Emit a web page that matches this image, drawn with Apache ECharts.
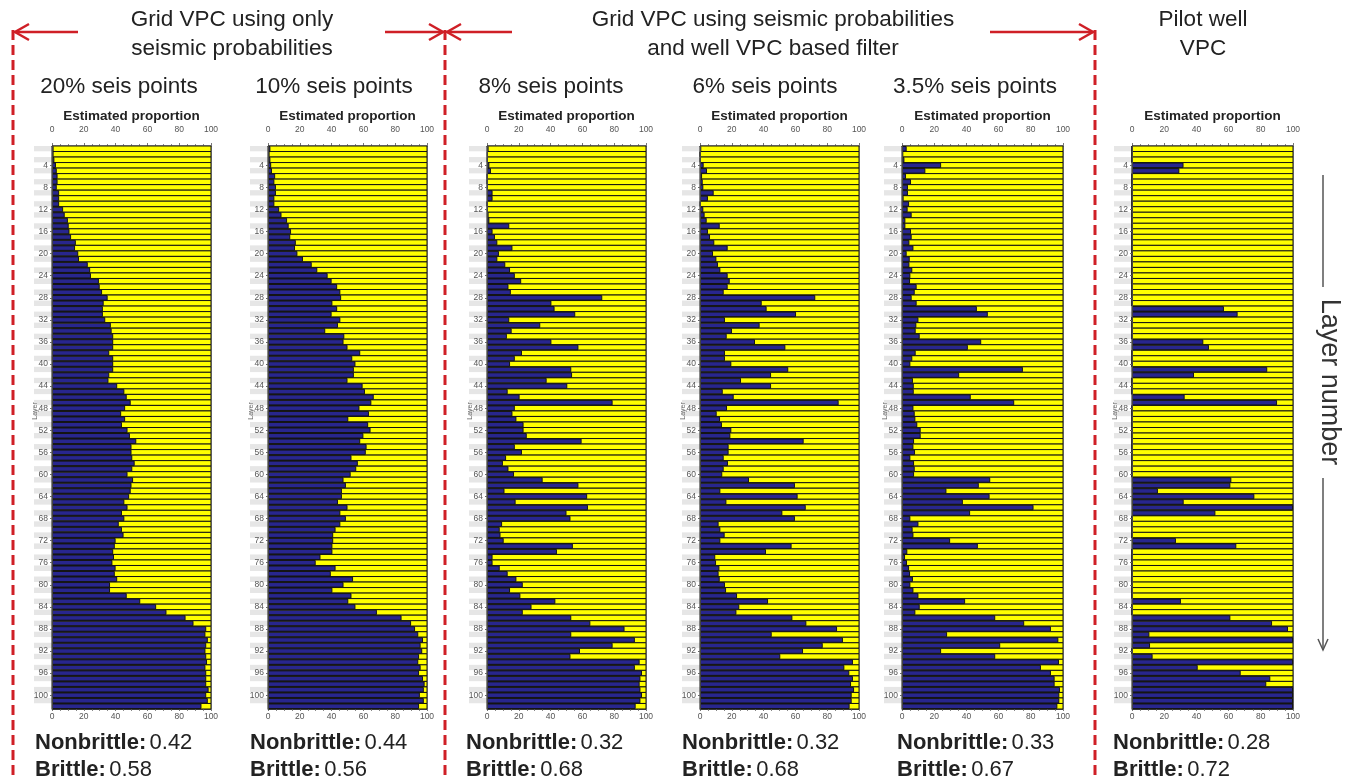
<!DOCTYPE html>
<html>
<head>
<meta charset="utf-8">
<script src="https://cdn.jsdelivr.net/npm/echarts@6/dist/echarts.min.js"></script>
<style>
  html, body { margin: 0; padding: 0; background: #ffffff; }
  #chart { width: 1347px; height: 780px; }
</style>
</head>
<body>
<div id="chart"></div>
<script>
// Layer numbers (1 = top of the zone)
const layers = Array.from({ length: 102 }, (_, i) => String(i + 1));

// Nonbrittle proportion (%) per layer for each vertical proportion curve
const nb20 = [1,1,1.5,2.5,3,3.5,3.5,3,4.5,4.5,
  4.5,7,8,10,10.5,11,12,15,14.5,16.5,
  17,22.5,24,24.5,29.5,30,31.5,35,32.5,32,
  32,33.5,37,37.5,38.5,38.5,38.5,36,38.5,38.5,
  38.5,36,35.5,41,45.5,47,49.5,46,43.5,46,
  44,47.5,49,53,50,50,50.5,52,50.5,47.5,
  51,50,49.5,48.5,45.5,47.5,44,45.5,42,44,
  45,40,39.5,38.5,39,38,40,39.5,41,36.5,
  36.5,47,55.5,65.5,72,84,89,97,96.5,98,
  97,96.5,97,97.5,96.5,97,97,97,98.5,97,
  98,94];
const nb10 = [1.5,1,1.5,2,2.5,4.5,4,5,5,4,
  4,7,8.5,12,13,14.5,14,17.5,17,18.5,
  22,27.5,31,37.5,40,43.5,45.5,46,40.5,43.5,
  40,45.5,44,36,48,47.5,50,58,53,55,
  54,54,50,59.5,61,66.5,65,57.5,63.5,50.5,
  63,64.5,60,58,62,61.5,52.5,56.5,55.5,52,
  47.5,49,46.5,46.5,44,50,45.5,49,45.5,42.5,
  41,41,40.5,40.5,33,30,42.5,39.5,53.5,47.5,
  40.5,52.5,50.5,55,68.5,84,90,92.5,94.5,97.5,
  96,97,95,94.5,96,95,97.5,98.5,98,95.5,
  98,95];
const nb8 = [1,0.5,0.5,1.5,2.5,0.3,0.3,0.5,3.5,3.5,
  0.3,0.5,1,1.5,14,3.5,5,6.5,16,7.5,
  6.5,11.5,14.5,17.5,21.5,13.5,15,72.5,40.5,42.5,
  55.5,14,33.5,15.5,12.5,40.5,57.5,22,17.5,14.5,
  53,53.5,37.5,50.5,13,20.5,79,17.5,16,18.5,
  23,23,25,59.5,17.5,22,12,10,13.5,17,
  35,57.5,11,63,18,63.5,50,52.5,9.5,8,
  8.5,10.5,54,44,3.5,3.5,8,13,18.5,22.5,
  14.5,21,43,28,22.5,53,65,86.5,53,93,
  79,58.5,52.5,96,93,97.5,96.5,96,96.5,97.5,
  96.5,93.5];
const nb6 = [0.8,0.2,0.4,2.3,4.4,1.3,1.7,2.1,8.6,5,
  0.4,2.1,2.9,4.2,12.4,5,6.3,9,17.4,8.2,
  10.3,11.3,12.8,17.4,18.7,17.4,14.9,72.5,38.8,41.9,
  60.4,15.7,37.5,20.1,16.8,34.6,53.7,15.7,15.7,19.7,
  55.5,44.7,25.8,44.7,14.3,21.2,87.2,17,10.5,12.6,
  13.8,19.7,19.1,65.2,18,18,14.9,17.6,14.9,14,
  30.8,59.7,12.8,61.4,16.6,66.5,51.8,59.7,11.7,12.8,
  15.5,12.8,57.6,41.5,9.6,10.1,12.2,11.7,12.4,15.7,
  16.4,23.3,42.8,24.7,22.9,58.1,66.9,86.2,45.1,89.9,
  77.2,64.8,50.5,96.2,90.8,93.9,96.2,95,96.9,95.4,
  95.4,94.1];
const nb35 = [2.9,0.8,1.5,24.3,14.5,2.5,5.6,3.7,3.7,1,
  4.4,3.5,6,2.1,2.1,5.6,6,4.6,7.1,2.9,
  4.8,4.6,6.4,5.2,5,9.1,7.9,6,9.1,46.5,
  53.3,10.2,8.9,8.5,11,49.2,40.9,8.5,6.4,5.2,
  75.1,35.5,6.8,7.3,7.3,42.7,69.7,7.1,7.9,8.3,
  9.5,11.6,11.6,7.5,7.1,8.1,5.2,7.5,7.9,7.5,
  54.8,47.7,27.6,54.4,37.8,81.7,42.3,5.2,10.2,6.6,
  7.1,29.9,47.1,3.3,1.9,3.1,4.4,5,6.8,5.2,
  7.1,10.2,39.2,11,8.3,57.9,75.9,92.5,28,97.1,
  61,24.3,57.9,97.5,86.3,92.5,94.8,94.8,98.1,97.7,
  97.7,96.5];
const nbWell = [0,0,0,32,29.4,0,0,0,0,0,
  0,0,0,0,0,0,0,0,0,0,
  0,0,0,0,0,0,0,0,0,57.1,
  65.6,0,0,0,0,44.3,47.8,0,0,0,
  84,38.5,0,0,0,32.7,90.1,0,0,0,
  0,0,0,0,0,0,0,0,0,0,
  61.7,61.1,16.1,76,32.1,100,51.8,0,0,0,
  0,27.3,64.8,0,0,0,0,0,0,0,
  0,0,30.4,0,0,61.1,87,96.9,10.8,100,
  11.2,0,12.8,100,40.8,67.5,85.9,83.4,100,100,
  100,100];

// Panel titles and global facies fractions
const panelTitles = ['20% seis points', '10% seis points', '8% seis points', '6% seis points', '3.5% seis points', ''];
const nonbrittleShare = [0.42, 0.44, 0.32, 0.32, 0.33, 0.28];
const brittleShare = [0.58, 0.56, 0.68, 0.68, 0.67, 0.72];

const seriesData = [nb20, nb10, nb8, nb6, nb35, nbWell];

// Panel geometry (pixels)
const plotLeft = [52, 268, 487, 700, 902, 1132];
const plotWidth = [159, 159, 159, 159, 161, 161];
const titleCenter = [119, 334, 551, 765, 975, 1213];
const footLeft = [35, 250, 466, 682, 897, 1113];
const PLOT_TOP = 146, PLOT_H = 563, STRIPE_W = 18;

const BLUE = '#28268e', YELLOW = '#ffff00', EDGE = '#141414', RED = '#cf1f26';
const FONT = '"Liberation Sans", Arial, sans-serif';

const grids = [], xAxes = [], yAxes = [], series = [];
const n = seriesData.length;

for (let i = 0; i < n; i++) {
  grids.push({ left: plotLeft[i], top: PLOT_TOP, width: plotWidth[i], height: PLOT_H,
    show: true, borderColor: '#444', borderWidth: 1, backgroundColor: 'transparent' });
}
for (let i = 0; i < n; i++) {
  grids.push({ left: plotLeft[i] - STRIPE_W, top: PLOT_TOP, width: STRIPE_W, height: PLOT_H,
    show: false });
}

const valueLabel = { fontSize: 8.5, color: '#555', fontFamily: FONT };
for (let i = 0; i < n; i++) {
  // bottom value axis
  xAxes.push({ type: 'value', gridIndex: i, position: 'bottom', min: 0, max: 100, interval: 20,
    axisLine: { show: true, lineStyle: { color: '#555', width: 1 } },
    axisTick: { show: true, length: 2, lineStyle: { color: '#777' } },
    minorTick: { show: true, splitNumber: 4, length: 2, lineStyle: { color: '#888' } },
    splitLine: { show: false },
    axisLabel: Object.assign({ margin: 3 }, valueLabel) });
  // top value axis
  xAxes.push({ type: 'value', gridIndex: i, position: 'top', min: 0, max: 100, interval: 20,
    axisLine: { show: true, lineStyle: { color: '#555', width: 1 } },
    axisTick: { show: true, length: 3, lineStyle: { color: '#777' } },
    minorTick: { show: true, splitNumber: 4, length: 2, lineStyle: { color: '#888' } },
    splitLine: { show: false },
    axisLabel: Object.assign({ margin: 12 }, valueLabel),
    name: 'Estimated proportion', nameLocation: 'middle', nameGap: 23, nameMoveOverlap: false,
    nameTextStyle: { fontFamily: FONT, fontWeight: 'bold', fontSize: 13.5, color: '#222' } });
  // hidden axis for the striped label band
  xAxes.push({ type: 'value', gridIndex: n + i, show: false, min: 0, max: 1 });
}

for (let i = 0; i < n; i++) {
  yAxes.push({ type: 'category', gridIndex: i, inverse: true, data: layers, z: 3,
    axisLine: { show: true, lineStyle: { color: '#444' } },
    axisTick: { show: true, length: 2, alignWithLabel: true,
      interval: (idx) => (idx + 1) % 4 === 0, lineStyle: { color: '#666' } },
    axisLabel: { interval: (idx) => (idx + 1) % 4 === 0, fontSize: 8.5, color: '#555',
      fontFamily: FONT, margin: 4 },
    splitLine: { show: false } });
  yAxes.push({ type: 'category', gridIndex: n + i, inverse: true, data: layers, z: 0,
    axisLine: { show: false }, axisTick: { show: false }, axisLabel: { show: false },
    splitArea: { show: true, interval: 0, areaStyle: { color: ['#e6e6e6', '#ffffff'] } } });
}

for (let i = 0; i < n; i++) {
  series.push({
    type: 'bar', name: 'Nonbrittle', xAxisIndex: i * 3, yAxisIndex: i * 2,
    data: seriesData[i], barWidth: '100%', silent: true,
    itemStyle: { color: BLUE, borderColor: EDGE, borderWidth: 1 },
    showBackground: true,
    backgroundStyle: { color: YELLOW, borderColor: EDGE, borderWidth: 1, opacity: 1 }
  });
}

// Headings, separators and annotations
const graphics = [];
const headText = (x, y, text, size) => ({
  type: 'text', x: x, y: y, z: 10,
  style: { text: text, fill: '#222', font: `${size}px ${FONT}`, align: 'center', verticalAlign: 'middle' }
});
graphics.push(headText(232, 20, 'Grid VPC using only', 22.5));
graphics.push(headText(232, 49, 'seismic probabilities', 22.5));
graphics.push(headText(773, 20, 'Grid VPC using seismic probabilities', 22.5));
graphics.push(headText(773, 49, 'and well VPC based filter', 22.5));
graphics.push(headText(1203, 20, 'Pilot well', 22.5));
graphics.push(headText(1203, 49, 'VPC', 22.5));

for (let i = 0; i < n; i++) {
  if (panelTitles[i]) graphics.push(headText(titleCenter[i], 87, panelTitles[i], 22.5));
  // small rotated axis name beside the layer labels
  graphics.push({ type: 'text', x: plotLeft[i] - 17, y: 411, rotation: Math.PI / 2, z: 10,
    style: { text: 'Layer', font: `7px ${FONT}`, fill: '#666', align: 'center', verticalAlign: 'middle' } });
  graphics.push({
    type: 'text', x: footLeft[i], y: 743, z: 10,
    style: { text: `{b|Nonbrittle:} {r|${nonbrittleShare[i].toFixed(2)}}`, verticalAlign: 'middle',
      rich: { b: { font: `bold 22px ${FONT}`, fill: '#222' }, r: { font: `22px ${FONT}`, fill: '#222' } } }
  });
  graphics.push({
    type: 'text', x: footLeft[i], y: 770, z: 10,
    style: { text: `{b|Brittle:} {r|${brittleShare[i].toFixed(2)}}`, verticalAlign: 'middle',
      rich: { b: { font: `bold 22px ${FONT}`, fill: '#222' }, r: { font: `22px ${FONT}`, fill: '#222' } } }
  });
}

// Red dashed section dividers
[13, 445, 1095].forEach((x) => {
  graphics.push({ type: 'line', z: 9, shape: { x1: x, y1: 30, x2: x, y2: 780 },
    style: { stroke: RED, lineWidth: 3, lineDash: [10, 5] } });
});

// Red arrows along the top
const arrow = (x1, x2, y, color, w) => {
  const dir = x2 > x1 ? 1 : -1;
  return [
    { type: 'line', z: 9, shape: { x1: x1, y1: y, x2: x2, y2: y }, style: { stroke: color, lineWidth: w } },
    { type: 'polyline', z: 9, shape: { points: [[x2 - dir * 14, y - 8], [x2, y], [x2 - dir * 14, y + 8]] },
      style: { stroke: color, lineWidth: w, fill: null } }
  ];
};
graphics.push(...arrow(78, 15, 32, RED, 2.5));
graphics.push(...arrow(385, 443, 32, RED, 2.5));
graphics.push(...arrow(512, 447, 32, RED, 2.5));
graphics.push(...arrow(990, 1093, 32, RED, 2.5));

// Layer number direction indicator
graphics.push({ type: 'line', z: 9, shape: { x1: 1323, y1: 175, x2: 1323, y2: 287 },
  style: { stroke: '#555', lineWidth: 1.5 } });
graphics.push({ type: 'line', z: 9, shape: { x1: 1323, y1: 478, x2: 1323, y2: 650 },
  style: { stroke: '#555', lineWidth: 1.5 } });
graphics.push({ type: 'polyline', z: 9, shape: { points: [[1318, 639], [1323, 650], [1328, 639]] },
  style: { stroke: '#555', lineWidth: 1.5, fill: null } });
graphics.push({ type: 'text', x: 1329, y: 382, rotation: -Math.PI / 2, z: 10,
  style: { text: 'Layer number', font: `27px ${FONT}`, fill: '#333', align: 'center', verticalAlign: 'middle' } });

const chart = echarts.init(document.getElementById('chart'), null, { renderer: 'canvas' });
chart.setOption({
  backgroundColor: '#ffffff',
  animation: false,
  grid: grids,
  xAxis: xAxes,
  yAxis: yAxes,
  series: series,
  graphic: graphics
});
</script>
</body>
</html>
